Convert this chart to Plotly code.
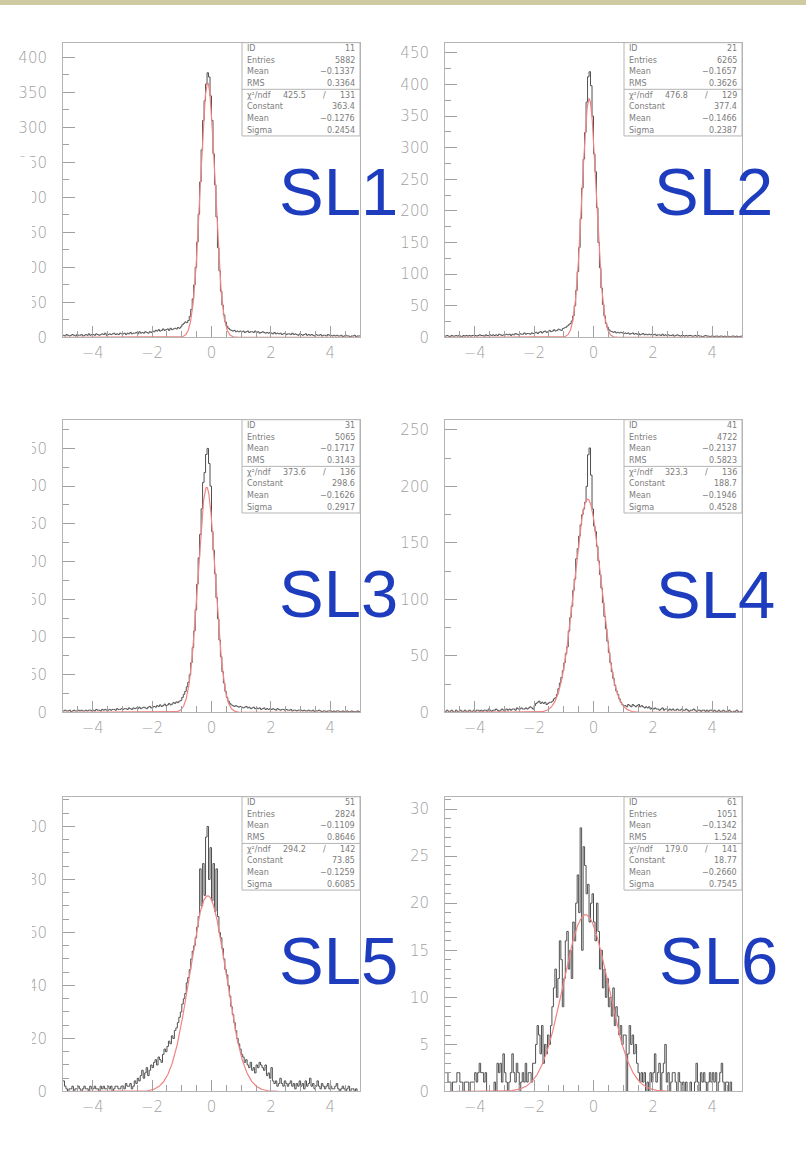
import numpy as np
import plotly.graph_objects as go

W, H = 806, 1164

# ---- histogram binning: 200 bins on [-5, 5] ----
BIN_LO, BIN_HI, BIN_WIDTH = -5.0, 5.0, 0.05

PANEL_LABELS = ["SL1", "SL2", "SL3", "SL4", "SL5", "SL6"]
HIST_ID = ["11", "21", "31", "41", "51", "61"]
ENTRIES = [5882, 6265, 5065, 4722, 2824, 1051]
RAW_MEAN = [-0.1337, -0.1657, -0.1717, -0.2137, -0.1109, -0.1342]
RAW_RMS = [0.3364, 0.3626, 0.3143, 0.5823, 0.8646, 1.524]
CHI2 = [425.5, 476.8, 373.6, 323.3, 294.2, 179.0]
NDF = [131, 129, 136, 136, 142, 141]
FIT_CONST = [363.4, 377.4, 298.6, 188.7, 73.85, 18.77]
FIT_MEAN = [-0.1276, -0.1466, -0.1626, -0.1946, -0.1259, -0.2660]
FIT_SIGMA = [0.2454, 0.2387, 0.2917, 0.4528, 0.6085, 0.7545]

Y_MAX = [421, 466, 388, 259, 111.2, 31.3]
Y_DTICK = [50, 50, 50, 50, 20, 5]
Y_MINOR = [25, 25, 25, 25, 5, 1]

# bin contents, one line per unit of x
COUNTS_SL1 = [
    3, 2, 4, 3, 2, 3, 4, 3, 2, 4, 3, 3, 4, 2, 3, 4, 3, 5, 3, 4,
    4, 3, 5, 4, 3, 4, 5, 4, 6, 3, 4, 5, 4, 5, 6, 4, 5, 4, 6, 5,
    5, 6, 4, 6, 5, 7, 5, 6, 6, 7, 5, 8, 6, 7, 6, 8, 7, 6, 8, 7,
    9, 8, 10, 9, 11, 9, 10, 12, 10, 11, 12, 10, 13, 11, 12, 13, 12, 14, 13, 15,
    18, 20, 22, 21, 24, 30, 40, 55, 75, 100, 136, 176, 222, 268, 310, 338, 362, 378, 372, 345,
    310, 262, 218, 172, 128, 95, 66, 46, 32, 22, 16, 13, 11, 10, 9, 10, 8, 9, 8, 9,
    8, 9, 7, 8, 9, 7, 8, 8, 7, 9, 7, 8, 6, 7, 8, 7, 6, 7, 6, 7,
    6, 5, 7, 5, 6, 5, 6, 4, 5, 6, 4, 5, 5, 4, 6, 4, 5, 4, 3, 5,
    4, 3, 4, 5, 3, 4, 3, 4, 3, 2, 4, 3, 3, 4, 2, 3, 3, 2, 4, 3,
    3, 2, 3, 2, 3, 2, 2, 3, 1, 2, 3, 2, 2, 1, 2, 2, 3, 1, 2, 2,
]
COUNTS_SL2 = [
    2, 3, 2, 1, 3, 2, 2, 3, 2, 3, 2, 1, 3, 2, 3, 2, 3, 2, 3, 3,
    3, 2, 3, 4, 3, 3, 2, 4, 3, 3, 4, 3, 4, 3, 4, 3, 5, 4, 3, 4,
    4, 5, 4, 5, 3, 5, 4, 6, 5, 4, 6, 5, 5, 7, 5, 6, 6, 5, 7, 6,
    7, 8, 6, 8, 9, 7, 9, 10, 8, 9, 11, 9, 10, 12, 10, 11, 13, 12, 11, 14,
    15, 16, 18, 20, 22, 26, 34, 50, 74, 104, 142, 188, 236, 282, 324, 372, 412, 420, 398, 350,
    290, 262, 205, 150, 110, 78, 52, 34, 22, 16, 12, 10, 9, 8, 9, 7, 8, 7, 8, 7,
    6, 7, 6, 7, 5, 6, 7, 5, 6, 5, 6, 4, 5, 6, 4, 5, 4, 5, 4, 5,
    4, 5, 3, 4, 4, 3, 5, 3, 4, 3, 4, 3, 3, 4, 2, 3, 4, 3, 2, 3,
    3, 2, 3, 2, 3, 3, 2, 2, 3, 2, 3, 2, 2, 1, 2, 3, 2, 2, 1, 2,
    2, 1, 2, 2, 1, 2, 2, 1, 2, 1, 2, 1, 1, 2, 2, 1, 2, 1, 1, 2,
]
COUNTS_SL3 = [
    2, 3, 2, 2, 3, 1, 2, 3, 2, 2, 3, 2, 3, 2, 2, 3, 2, 3, 3, 2,
    3, 2, 4, 3, 3, 2, 4, 3, 4, 3, 3, 4, 3, 4, 4, 3, 5, 4, 4, 5,
    4, 5, 5, 4, 6, 5, 4, 6, 5, 6, 5, 7, 5, 6, 7, 6, 5, 7, 8, 6,
    7, 8, 7, 9, 8, 10, 8, 9, 11, 9, 10, 12, 10, 11, 13, 12, 14, 13, 15, 16,
    20, 24, 28, 34, 40, 50, 66, 86, 108, 136, 170, 205, 236, 270, 305, 318, 342, 350, 330, 300,
    240, 215, 184, 152, 124, 96, 74, 54, 39, 28, 20, 15, 12, 10, 9, 8, 9, 8, 7, 8,
    7, 6, 7, 8, 6, 7, 5, 6, 7, 5, 6, 5, 6, 4, 5, 6, 4, 5, 4, 5,
    4, 5, 4, 3, 5, 4, 3, 4, 4, 3, 4, 3, 3, 4, 2, 3, 3, 2, 3, 3,
    3, 2, 3, 2, 2, 3, 2, 2, 3, 1, 2, 2, 3, 2, 1, 2, 2, 1, 2, 2,
    2, 1, 2, 1, 2, 2, 1, 1, 2, 1, 1, 2, 1, 1, 2, 1, 1, 1, 2, 1,
]
COUNTS_SL4 = [
    1, 2, 1, 1, 2, 1, 0, 2, 1, 1, 2, 1, 1, 2, 1, 1, 2, 1, 1, 2,
    1, 2, 2, 1, 2, 1, 2, 2, 1, 3, 2, 1, 2, 2, 3, 2, 1, 2, 3, 2,
    2, 3, 2, 3, 2, 3, 3, 2, 4, 3, 3, 4, 3, 3, 4, 3, 4, 5, 4, 3,
    6, 8, 9, 10, 8, 9, 8, 9, 7, 8, 9, 9, 10, 12, 13, 16, 21, 26, 31, 37,
    44, 52, 58, 72, 84, 94, 108, 118, 136, 145, 156, 166, 175, 180, 186, 200, 228, 234, 210, 180,
    165, 160, 147, 134, 122, 110, 97, 85, 74, 63, 53, 44, 36, 30, 24, 19, 16, 12, 9, 7,
    6, 6, 5, 7, 6, 5, 7, 6, 5, 6, 7, 5, 6, 5, 4, 5, 4, 5, 3, 4,
    3, 4, 3, 3, 2, 3, 4, 2, 3, 3, 2, 3, 2, 3, 2, 2, 3, 2, 2, 3,
    2, 2, 3, 2, 1, 2, 2, 3, 2, 1, 2, 2, 1, 2, 2, 1, 2, 1, 2, 2,
    1, 2, 1, 1, 2, 1, 1, 2, 1, 1, 1, 2, 1, 0, 1, 1, 2, 1, 0, 1,
]
COUNTS_SL5 = [
    4, 2, 1, 0, 1, 1, 2, 0, 1, 1, 2, 1, 0, 1, 2, 1, 1, 0, 2, 1,
    1, 2, 1, 1, 0, 2, 1, 2, 1, 1, 2, 1, 2, 0, 1, 2, 2, 1, 1, 2,
    2, 1, 3, 2, 2, 3, 1, 2, 4, 3, 5, 4, 6, 8, 5, 7, 9, 6, 8, 10,
    9, 11, 12, 10, 13, 12, 11, 14, 16, 15, 17, 19, 18, 21, 20, 23, 24, 26, 28, 30,
    33, 35, 37, 41, 43, 46, 50, 53, 55, 58, 62, 66, 84, 70, 86, 74, 96, 100, 80, 92,
    72, 86, 68, 84, 66, 60, 58, 54, 50, 46, 44, 40, 36, 32, 29, 26, 23, 20, 18, 16,
    14, 13, 11, 12, 10, 9, 11, 8, 9, 7, 10, 9, 11, 10, 9, 8, 10, 6, 7, 5,
    9, 4, 3, 4, 2, 3, 5, 3, 2, 4, 3, 2, 3, 4, 2, 3, 1, 3, 2, 4,
    2, 3, 1, 4, 2, 3, 5, 2, 3, 1, 2, 4, 2, 1, 3, 2, 1, 2, 3, 1,
    2, 1, 1, 2, 3, 1, 0, 1, 2, 1, 0, 1, 2, 0, 1, 1, 0, 1, 0, 0,
]
COUNTS_SL6 = [
    2, 2, 1, 1, 0, 1, 1, 1, 2, 2, 1, 1, 0, 1, 1, 1, 0, 1, 1, 1,
    2, 1, 2, 3, 2, 2, 1, 2, 0, 0, 0, 0, 0, 1, 0, 3, 2, 3, 1, 4,
    2, 1, 0, 1, 2, 4, 2, 1, 3, 2, 0, 1, 2, 1, 3, 1, 2, 2, 1, 3,
    3, 5, 7, 6, 4, 7, 3, 5, 4, 6, 5, 7, 9, 11, 13, 10, 12, 16, 14, 9,
    12, 16, 17, 13, 15, 12, 18, 16, 20, 23, 19, 28, 15, 26, 24, 21, 22, 18, 20, 21,
    18, 16, 20, 17, 13, 15, 11, 13, 10, 12, 9, 10, 8, 11, 7, 9, 8, 6, 7, 5,
    6, 6, 0, 4, 7, 5, 6, 4, 5, 3, 2, 1, 2, 1, 2, 0, 1, 0, 2, 1,
    2, 4, 1, 2, 3, 0, 2, 3, 5, 1, 2, 0, 1, 2, 2, 1, 0, 2, 1, 0,
    1, 0, 1, 0, 0, 1, 0, 0, 1, 3, 1, 0, 2, 1, 2, 1, 0, 1, 2, 1,
    2, 1, 2, 0, 1, 2, 3, 1, 0, 1, 1, 0, 1, 0, 0, 0, 0, 0, 0, 0,
]
ALL_COUNTS = [COUNTS_SL1, COUNTS_SL2, COUNTS_SL3, COUNTS_SL4, COUNTS_SL5, COUNTS_SL6]

# ---- page geometry (pixels) ----
COL_X = [(63, 360), (445, 742)]
ROW_Y = [(43, 340), (423, 718), (803, 1100)]
LABEL_POS = [(277, 193), (652, 193), (277, 598), (654, 599), (277, 968), (657, 968)]

FRAME_COLOR = "#b4b4b4"
TICK_COLOR = "#a0a0a0"
TICK_FONT = dict(family="DejaVu Sans", size=15, color="#a0a0a0", weight=200)
STAT_FONT = dict(family="DejaVu Sans", size=8, color="#7c7c7c")
HIST_COLOR = "#505050"
FIT_COLOR = "#f08484"
LABEL_COLOR = "#1d3cbe"


def px(x):
    return x / W


def py(y):
    return 1 - y / H


def fmt(v):
    return f"{v:#.4g}".replace("-", "\u2212")


fig = go.Figure()
shapes = []
annotations = []

edges = BIN_LO + BIN_WIDTH * np.arange(201)
xfit = np.linspace(BIN_LO, BIN_HI, 1001)

for i in range(6):
    row, col = divmod(i, 2)
    x0, x1 = COL_X[col]
    y0, y1 = ROW_Y[row]
    sfx = "" if i == 0 else str(i + 1)
    xa, ya = "x" + sfx, "y" + sfx

    counts = np.asarray(ALL_COUNTS[i], dtype=float)
    fig.add_trace(go.Scatter(
        x=edges, y=np.append(counts, counts[-1]), mode="lines",
        line=dict(shape="hv", color=HIST_COLOR, width=1),
        xaxis=xa, yaxis=ya, showlegend=False, hoverinfo="skip"))

    yfit = FIT_CONST[i] * np.exp(-0.5 * ((xfit - FIT_MEAN[i]) / FIT_SIGMA[i]) ** 2)
    fig.add_trace(go.Scatter(
        x=xfit, y=yfit, mode="lines", line=dict(color=FIT_COLOR, width=1.2),
        xaxis=xa, yaxis=ya, showlegend=False, hoverinfo="skip"))

    common = dict(showline=True, linecolor=FRAME_COLOR, linewidth=1, mirror=True,
                  showgrid=False, zeroline=False, ticks="inside", tickcolor=TICK_COLOR,
                  tickwidth=1, tickfont=TICK_FONT)
    fig.layout["xaxis" + sfx] = dict(
        domain=[px(x0), px(x1)], anchor=ya, range=[BIN_LO, BIN_HI],
        tickmode="linear", tick0=0, dtick=2, ticklen=11, ticklabelstandoff=2,
        minor=dict(ticks="inside", tick0=0, dtick=0.5, ticklen=6,
                   tickcolor=TICK_COLOR, showgrid=False),
        **common)
    fig.layout["yaxis" + sfx] = dict(
        domain=[py(y1), py(y0)], anchor=xa, range=[0, Y_MAX[i]],
        tickmode="linear", tick0=0, dtick=Y_DTICK[i], ticklen=12, ticklabelstandoff=12,
        minor=dict(ticks="inside", tick0=0, dtick=Y_MINOR[i], ticklen=6,
                   tickcolor=TICK_COLOR, showgrid=False),
        **common)

    # statistics box
    bx0, by0, by1 = x1 - 118, y0, y0 + 94
    shapes.append(dict(type="rect", xref="paper", yref="paper", layer="above",
                       x0=px(bx0), x1=px(x1), y0=py(by1), y1=py(by0),
                       fillcolor="white", line=dict(color=FRAME_COLOR, width=1)))
    shapes.append(dict(type="line", xref="paper", yref="paper", layer="above",
                       x0=px(bx0), x1=px(x1), y0=py(by0 + 47), y1=py(by0 + 47),
                       line=dict(color=FRAME_COLOR, width=1)))
    rows = [("ID", HIST_ID[i]), ("Entries", str(ENTRIES[i])),
            ("Mean", fmt(RAW_MEAN[i])), ("RMS", fmt(RAW_RMS[i])),
            ("\u03c7\u00b2/ndf", None), ("Constant", fmt(FIT_CONST[i])),
            ("Mean", fmt(FIT_MEAN[i])), ("Sigma", fmt(FIT_SIGMA[i]))]
    for k, (name, val) in enumerate(rows):
        yc = py(by0 + 5.9 + k * 11.75)
        annotations.append(dict(xref="paper", yref="paper", x=px(bx0 + 3), y=yc,
                                text=name, showarrow=False, xanchor="left",
                                yanchor="middle", font=STAT_FONT))
        if val is None:
            annotations.append(dict(xref="paper", yref="paper", x=px(bx0 + 66), y=yc,
                                    text=f"{CHI2[i]:.1f}", showarrow=False,
                                    xanchor="right", yanchor="middle", font=STAT_FONT))
            annotations.append(dict(xref="paper", yref="paper", x=px(bx0 + 82), y=yc,
                                    text="/", showarrow=False, xanchor="center",
                                    yanchor="middle", font=STAT_FONT))
            val = str(NDF[i])
        annotations.append(dict(xref="paper", yref="paper", x=px(x1 - 3), y=yc,
                                text=val, showarrow=False, xanchor="right",
                                yanchor="middle", font=STAT_FONT))

    lx, ly = LABEL_POS[i]
    annotations.append(dict(xref="paper", yref="paper", x=px(lx), y=py(ly),
                            text=PANEL_LABELS[i], showarrow=False, xanchor="left",
                            yanchor="middle",
                            font=dict(family="Liberation Sans", size=67, color=LABEL_COLOR)))

# trimmed edges of the pasted plot images
shapes.append(dict(type="rect", xref="paper", yref="paper", layer="above",
                   x0=0, x1=px(32), y0=0, y1=py(158),
                   fillcolor="white", line=dict(width=0)))
shapes.append(dict(type="rect", xref="paper", yref="paper", layer="above",
                   x0=px(362), x1=px(401), y0=0, y1=1,
                   fillcolor="white", line=dict(width=0)))
# decorative band along the top edge
shapes.append(dict(type="rect", xref="paper", yref="paper", layer="above",
                   x0=0, x1=1, y0=py(5), y1=1,
                   fillcolor="#cfcaa2", line=dict(width=0)))

fig.update_layout(width=W, height=H, margin=dict(l=0, r=0, t=0, b=0),
                  paper_bgcolor="white", plot_bgcolor="white",
                  shapes=shapes, annotations=annotations, showlegend=False)

fig.write_html("out.html")
